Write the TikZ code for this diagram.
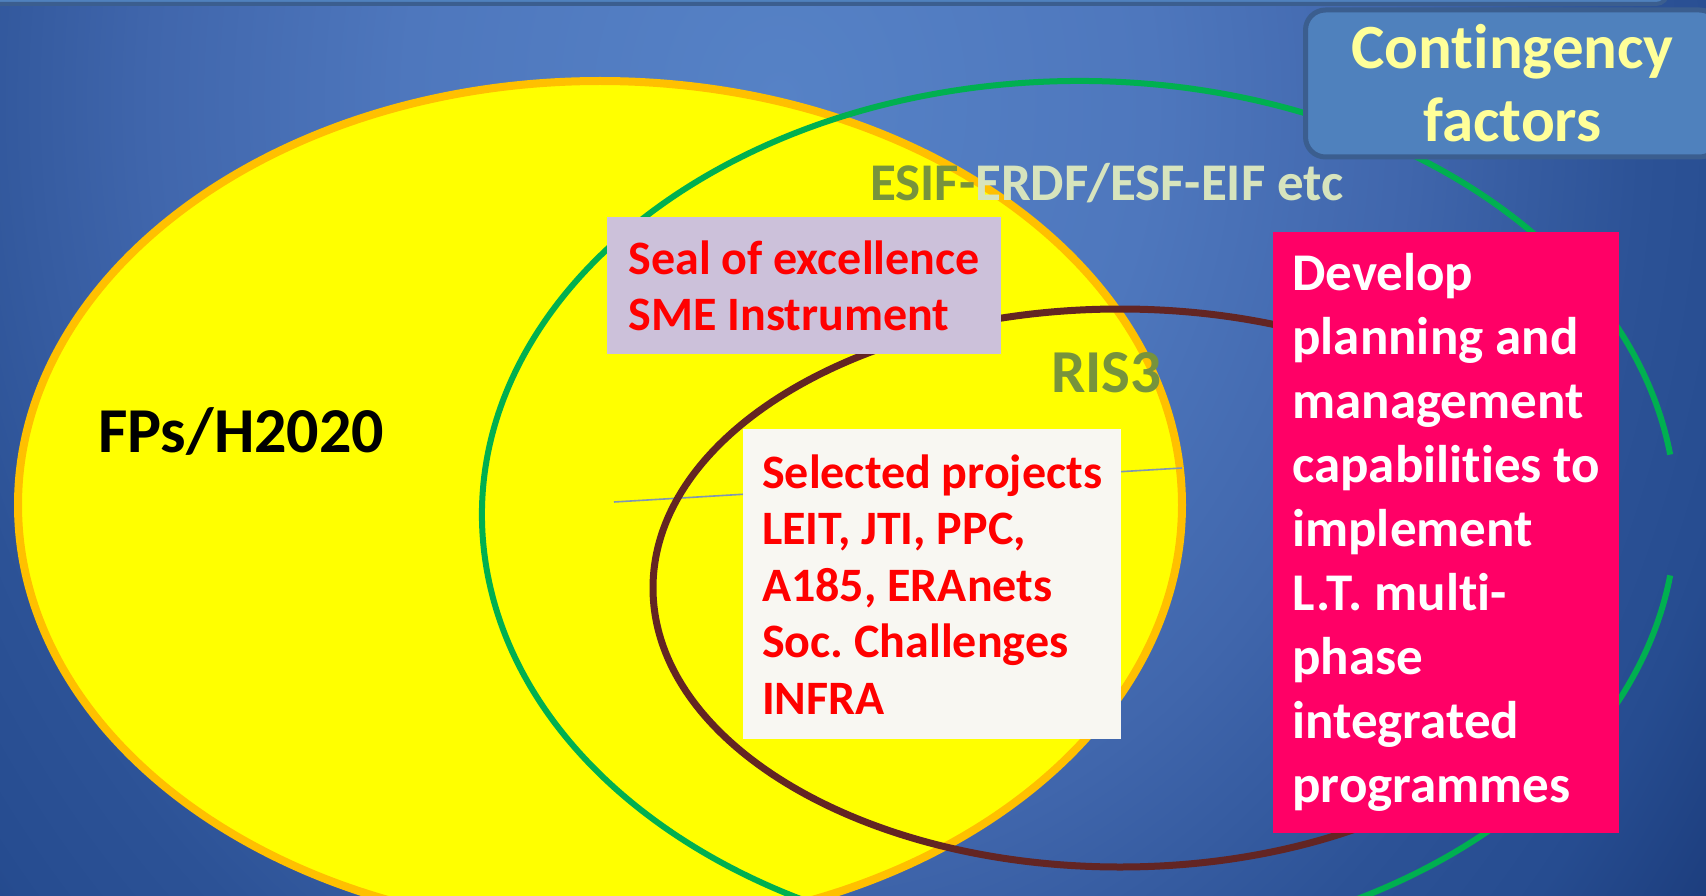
\documentclass[tikz,border=0pt]{standalone}
\usepackage{fontspec}
\setmainfont{Carlito}[RawFeature={-liga;-clig;-calt;-dlig}]
\usetikzlibrary{positioning, calc}
\frenchspacing

% slide palette
\definecolor{bgA}{HTML}{5682C6}
\definecolor{bgB}{HTML}{4E77BD}
\definecolor{bgC}{HTML}{4066AC}
\definecolor{bgD}{HTML}{2C5296}
\definecolor{bgE}{HTML}{264C90}
\definecolor{bgF}{HTML}{1B3B7A}
\definecolor{fpyellow}{HTML}{FFFF00}
\definecolor{fporange}{HTML}{FFC000}
\definecolor{esifgreen}{HTML}{00B050}
\definecolor{risbrown}{HTML}{632523}
\definecolor{chordgrey}{HTML}{7F96B4}
\definecolor{labelolive}{HTML}{77933C}
\definecolor{labelpale}{HTML}{D7E4BD}
\definecolor{boxred}{HTML}{FF0000}
\definecolor{sealfill}{HTML}{CCC1DA}
\definecolor{projfill}{HTML}{F8F7F2}
\definecolor{capmagenta}{HTML}{FF0066}
\definecolor{tabblue}{HTML}{4F81BD}
\definecolor{tabedge}{HTML}{3B5E8F}
\definecolor{tabtext}{HTML}{FFFF99}

% path bounding box maps onto the inner 25bp radius
\pgfdeclareradialshading{slidebg}{\pgfpoint{0bp}{0bp}}{%
  color(0bp)=(bgA); color(8bp)=(bgB); color(13.5bp)=(bgC);
  color(18.5bp)=(bgD); color(21.5bp)=(bgE); color(25bp)=(bgF);
  color(50bp)=(bgF)}

\begin{document}
\begin{tikzpicture}[
  x=1pt, y=-1pt,
  font=\bfseries,
  every node/.style={inner sep=0pt},
  fpsring/.style={draw=fporange, line width=8pt, fill=fpyellow},
  esifring/.style={draw=esifgreen, line width=6pt},
  risring/.style={draw=risbrown, line width=7pt},
  chord/.style={draw=chordgrey, line width=1.6pt},
  fundlabel/.style={anchor=base west},
  redbox/.style={
    rectangle, anchor=north west, align=left, text=boxred,
    font=\bfseries\fontsize{48}{56.5}\selectfont,
  },
  capbox/.style={
    rectangle, anchor=north west, align=left, text=white, fill=capmagenta,
    font=\bfseries\fontsize{53}{64}\selectfont,
  },
  tabbox/.style={
    rectangle, rounded corners=20pt, anchor=north west, align=center,
    draw=tabedge, line width=5pt, fill=tabblue, text=tabtext,
    font=\bfseries\fontsize{63}{73}\selectfont,
  },
]
\useasboundingbox (0,0) rectangle (1706,896);
\begin{scope}
\clip (0,0) rectangle (1706,896);

% ── Background and title strip ─────────────────────────────────────
\coordinate (bgc) at (780,100);
\shade[shading=slidebg] (bgc) ellipse [x radius=1165pt, y radius=1410pt];
\draw[draw=tabedge, line width=4pt, fill=tabblue, rounded corners=12pt]
  (-20,-60) rectangle (1668,4);

% ── Framework programmes (filled ellipse) ──────────────────────────
\coordinate (fpc) at (600,505);
\draw[fpsring] (fpc) ellipse [x radius=582pt, y radius=424pt];

\coordinate (chordL) at (614,502);
\coordinate (chordR) at (1182,468);
\draw[chord] (chordL) -- (chordR);

% ── Ring labels ────────────────────────────────────────────────────
\node[fundlabel, font=\bfseries\fontsize{64}{70}\selectfont] (fps)
  at (98,452) {FPs/H2020};
\node[fundlabel, text=labelpale, font=\bfseries\fontsize{53}{60}\selectfont] (esif)
  at (870,201) {\textcolor{labelolive}{ESIF-}ERDF/ESF-EIF etc};
\node[fundlabel, text=labelolive, font=\bfseries\fontsize{61}{66}\selectfont] (ris)
  at (1051,392) {RIS3};

% ── Structural funds ring (open on the right) and RIS3 ring ────────
\coordinate (esifc) at (1079,515);
\draw[esifring] ($(esifc)+(8:597pt and 434pt)$)
  arc[start angle=8, end angle=352, x radius=597pt, y radius=434pt];

\coordinate (risc) at (1120,588);
\draw[risring] (risc) ellipse [x radius=467pt, y radius=279pt];

% ── Text boxes ─────────────────────────────────────────────────────
\node[redbox, fill=sealfill, minimum width=394pt, minimum height=137pt]
  (seal) at (607,217) {Seal of excellence\\SME Instrument};
\node[redbox, fill=projfill, minimum width=378pt, minimum height=310pt]
  (projects) at (743,429)
  {Selected projects\\LEIT, JTI, PPC,\\A185, ERAnets\\Soc. Challenges\\INFRA};
\node[capbox, minimum width=346pt, minimum height=601pt]
  (capab) at (1273,232)
  {Develop\\planning and\\management\\capabilities to\\implement\\L.T. multi-\\phase\\integrated\\programmes};
\node[tabbox, minimum width=414pt, minimum height=147pt]
  (contingency) at (1303,7.5) {Contingency\\factors};

\end{scope}
\end{tikzpicture}
\end{document}
